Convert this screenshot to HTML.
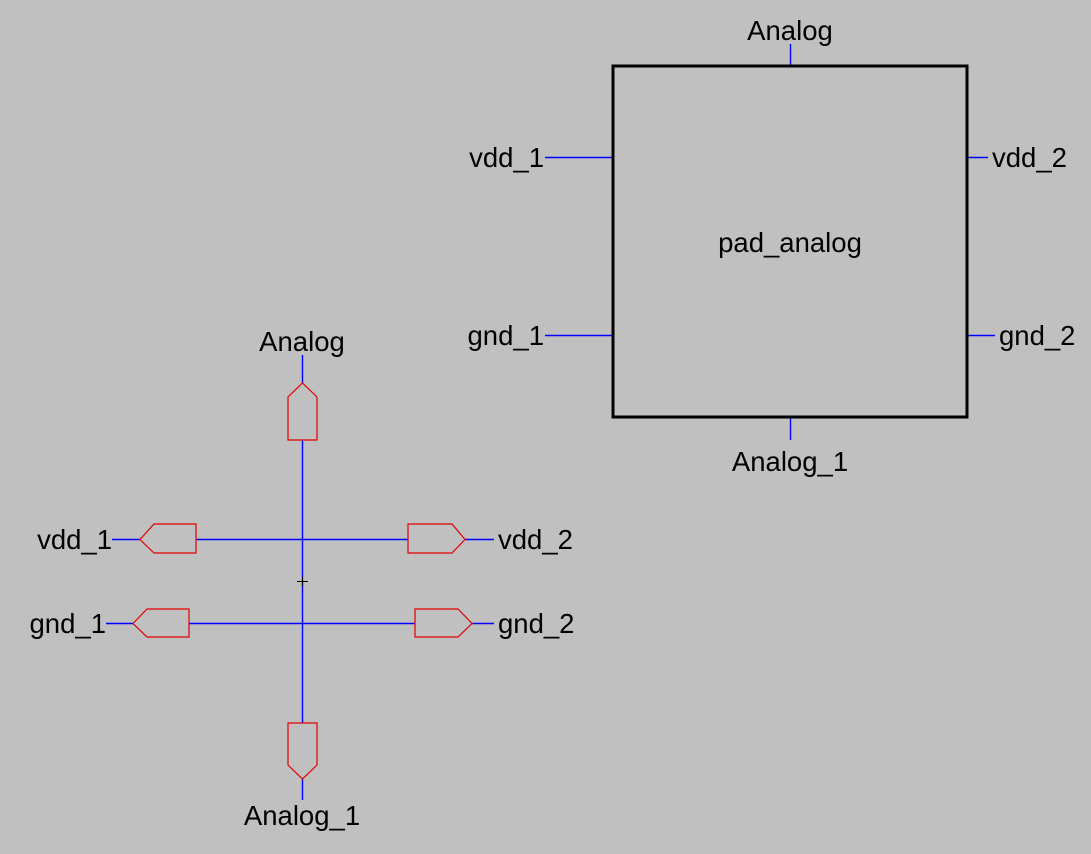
<!DOCTYPE html>
<html><head><style>
html,body{margin:0;padding:0;background:#c0c0c0;}
svg{display:block;}
text{font-family:"Liberation Sans",sans-serif;font-size:27.5px;fill:#000;}
</style></head><body>
<svg width="1091" height="854" viewBox="0 0 1091 854" xmlns="http://www.w3.org/2000/svg">
<rect width="1091" height="854" fill="#c0c0c0"/>
<g stroke="#0000ff" stroke-width="1.4" fill="none">
<line x1="302.5" y1="355" x2="302.5" y2="800"/>
<line x1="112" y1="539.5" x2="140" y2="539.5"/>
<line x1="196" y1="539.5" x2="408" y2="539.5"/>
<line x1="465" y1="539.5" x2="494" y2="539.5"/>
<line x1="106" y1="623.5" x2="133" y2="623.5"/>
<line x1="189" y1="623.5" x2="415" y2="623.5"/>
<line x1="472" y1="623.5" x2="494" y2="623.5"/>
<line x1="790.5" y1="44" x2="790.5" y2="66"/>
<line x1="545" y1="157.5" x2="613" y2="157.5"/>
<line x1="545" y1="335.5" x2="613" y2="335.5"/>
<line x1="967" y1="157.5" x2="988" y2="157.5"/>
<line x1="967" y1="335.5" x2="995" y2="335.5"/>
<line x1="790.5" y1="417" x2="790.5" y2="440"/>
</g>
<g stroke="#e00000" stroke-width="1.2" fill="#c0c0c0">
<polygon points="302.5,383 317,397 317,440 288,440 288,397"/>
<polygon points="140,539.5 154,524 196,524 196,553 154,553"/>
<polygon points="408,524 452,524 465,539.5 452,553 408,553"/>
<polygon points="133,623.5 147,609 189,609 189,637 147,637"/>
<polygon points="415,609 458,609 472,623.5 458,637 415,637"/>
<polygon points="288,723 317,723 317,765 302.5,779 288,765"/>
</g>
<line x1="297" y1="581.5" x2="308" y2="581.5" stroke="#000" stroke-width="1"/>
<line x1="302.5" y1="577" x2="302.5" y2="586" stroke="#000" stroke-width="1"/>
<rect x="613" y="66" width="354" height="351" fill="none" stroke="#000" stroke-width="3"/>
<text x="302" y="351" text-anchor="middle">Analog</text>
<text x="302" y="825" text-anchor="middle">Analog_1</text>
<text x="112" y="549" text-anchor="end">vdd_1</text>
<text x="498" y="549">vdd_2</text>
<text x="106" y="633" text-anchor="end">gnd_1</text>
<text x="498" y="633">gnd_2</text>
<text x="790" y="40" text-anchor="middle">Analog</text>
<text x="790" y="252" text-anchor="middle">pad_analog</text>
<text x="790" y="471" text-anchor="middle">Analog_1</text>
<text x="544" y="167" text-anchor="end">vdd_1</text>
<text x="544" y="345" text-anchor="end">gnd_1</text>
<text x="992" y="167">vdd_2</text>
<text x="999" y="345">gnd_2</text>
</svg>
</body></html>
